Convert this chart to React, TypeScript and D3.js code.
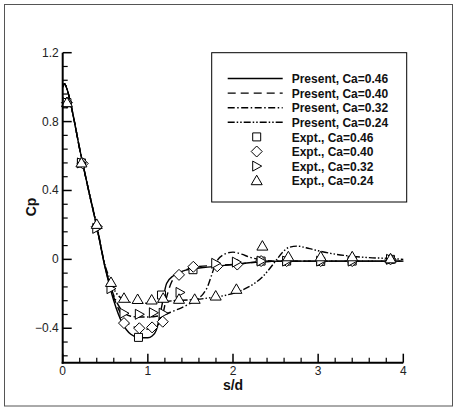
import React from "react";
import * as d3 from "d3";

const W = 454;
const H = 408;

// Present (computed) curves
const x046 = [0, 0.02, 0.05, 0.1, 0.2, 0.3, 0.4, 0.5, 0.6, 0.7, 0.8, 0.9, 1.0, 1.05, 1.1, 1.16, 1.22, 1.3, 1.4, 1.53, 1.7, 2.0, 2.3, 2.6, 3.0, 3.5, 4.0];
const y046 = [1.0, 1.02, 0.99, 0.89, 0.64, 0.41, 0.19, -0.05, -0.24, -0.37, -0.435, -0.455, -0.455, -0.445, -0.41, -0.28, -0.14, -0.095, -0.07, -0.055, -0.045, -0.03, -0.015, -0.01, -0.01, -0.01, -0.01];

const x040 = [0, 0.02, 0.05, 0.1, 0.2, 0.3, 0.4, 0.5, 0.6, 0.7, 0.8, 0.9, 1.0, 1.1, 1.17, 1.22, 1.28, 1.35, 1.45, 1.55, 1.8, 2.0, 2.3, 2.6, 3.0, 4.0];
const y040 = [1.0, 1.02, 0.99, 0.89, 0.64, 0.41, 0.19, -0.05, -0.22, -0.33, -0.385, -0.4, -0.405, -0.39, -0.33, -0.22, -0.13, -0.09, -0.06, -0.045, -0.035, -0.03, -0.015, -0.01, -0.01, -0.01];

const x032 = [0, 0.02, 0.05, 0.1, 0.2, 0.3, 0.4, 0.5, 0.6, 0.7, 0.8, 0.9, 1.0, 1.1, 1.2, 1.3, 1.4, 1.5, 1.6, 1.65, 1.7, 1.75, 1.8, 1.9, 2.0, 2.1, 2.2, 2.3, 2.5, 3.0, 4.0];
const y032 = [1.0, 1.02, 0.99, 0.89, 0.64, 0.41, 0.19, -0.05, -0.21, -0.3, -0.33, -0.335, -0.335, -0.33, -0.32, -0.3, -0.28, -0.255, -0.225, -0.2, -0.16, -0.09, -0.02, 0.03, 0.042, 0.03, 0.012, 0.0, -0.01, -0.01, -0.01];

const x024 = [0, 0.02, 0.05, 0.1, 0.2, 0.3, 0.4, 0.5, 0.56, 0.6, 0.7, 0.8, 0.9, 1.0, 1.1, 1.2, 1.3, 1.5, 1.7, 1.9, 2.1, 2.25, 2.35, 2.42, 2.5, 2.58, 2.65, 2.75, 2.9, 3.0, 3.2, 3.4, 3.6, 3.85, 4.0];
const y024 = [1.0, 1.02, 0.99, 0.89, 0.64, 0.41, 0.2, -0.04, -0.12, -0.17, -0.23, -0.25, -0.255, -0.255, -0.25, -0.245, -0.24, -0.235, -0.225, -0.21, -0.18, -0.14, -0.1, -0.06, -0.01, 0.04, 0.068, 0.077, 0.062, 0.05, 0.03, 0.018, 0.01, 0.005, 0.0];

// Experimental data
const sqX = [0.05, 0.22, 0.89, 1.16, 1.53, 2.33, 2.63, 3.03, 3.4, 3.85];
const sqY = [0.91, 0.56, -0.453, -0.207, -0.06, -0.01, -0.01, -0.012, -0.01, 0.0];

const diX = [0.05, 0.235, 0.4, 0.72, 0.9, 1.05, 1.175, 1.366, 1.534, 1.815, 2.05, 2.33, 2.63, 3.03, 3.4, 3.85];
const diY = [0.91, 0.557, 0.19, -0.37, -0.4, -0.395, -0.362, -0.09, -0.043, -0.04, -0.03, -0.01, -0.01, -0.01, -0.01, 0.0];

const rtX = [0.05, 0.22, 0.4, 0.567, 0.72, 0.9, 1.065, 1.18, 1.378, 1.797, 2.04, 2.33, 2.63, 3.03, 3.4, 3.85];
const rtY = [0.91, 0.56, 0.18, -0.17, -0.313, -0.319, -0.31, -0.313, -0.192, -0.023, -0.016, -0.01, -0.01, -0.01, -0.01, 0.0];

const utX = [0.05, 0.22, 0.4, 0.567, 0.72, 0.88, 1.045, 1.18, 1.366, 1.55, 1.797, 2.04, 2.345, 2.65, 3.03, 3.4, 3.85];
const utY = [0.91, 0.56, 0.203, -0.134, -0.226, -0.233, -0.236, -0.226, -0.232, -0.232, -0.213, -0.174, 0.077, 0.015, 0.015, 0.015, 0.003];

const xTicks = [0, 1, 2, 3, 4];
const yTicks = [-0.4, 0, 0.4, 0.8, 1.2];
const legendLabels = [
  "Present, Ca=0.46",
  "Present, Ca=0.40",
  "Present, Ca=0.32",
  "Present, Ca=0.24",
  "Expt., Ca=0.46",
  "Expt., Ca=0.40",
  "Expt., Ca=0.32",
  "Expt., Ca=0.24",
];

const FONT = "'Liberation Sans', Arial, sans-serif";

const x = d3.scaleLinear().domain([0, 4]).range([62.7, 403.3]);
const y = d3.scaleLinear().domain([-0.6, 1.2]).range([362.7, 52.7]);

const dashes = [undefined, "8,5", "7,2.5,1.5,2.5", "7,2,1.5,2,1.5,2"];

function markerPath(kind: number, cx: number, cy: number): string {
  if (kind === 0) {
    const s = 4;
    return `M${cx - s},${cy - s}H${cx + s}V${cy + s}H${cx - s}Z`;
  }
  if (kind === 1) {
    const s = 5.5;
    return `M${cx},${cy - s}L${cx + s},${cy}L${cx},${cy + s}L${cx - s},${cy}Z`;
  }
  if (kind === 2) {
    return `M${cx - 4},${cy - 5}L${cx + 5},${cy}L${cx - 4},${cy + 5}Z`;
  }
  return `M${cx},${cy - 5.5}L${cx + 5.5},${cy + 4}L${cx - 5.5},${cy + 4}Z`;
}

export default function App() {
  const line = d3
    .line<[number, number]>()
    .x((d) => x(d[0]))
    .y((d) => y(d[1]))
    .curve(d3.curveMonotoneX);

  const curves: [number[], number[]][] = [
    [x046, y046],
    [x040, y040],
    [x032, y032],
    [x024, y024],
  ];
  const expts: [number[], number[]][] = [
    [sqX, sqY],
    [diX, diY],
    [rtX, rtY],
    [utX, utY],
  ];

  const yMinor = d3.range(-0.56, 1.2, 0.08).map((v) => Math.round(v * 100) / 100);
  const xMinor = d3.range(0.2, 4, 0.2).map((v) => Math.round(v * 10) / 10).filter((v) => Math.abs(v - Math.round(v)) > 1e-6);

  const x0 = x(0);
  const y0 = y(-0.6);

  const legX = 211.7;
  const legY = 52.7;
  const rowY = (i: number) => 79 + i * 14.6;

  return (
    <svg width={W} height={H} style={{ position: "absolute", left: 0, top: 0, background: "#fff" }}>
      <rect x={0} y={0} width={W} height={H} fill="#fff" />
      <rect x={4.5} y={4.5} width={448} height={401.5} fill="none" stroke="#555" strokeWidth={1} />

      {/* curves */}
      {curves.map(([xs, ys], i) => (
        <path
          key={"c" + i}
          d={line(xs.map((v, j) => [v, ys[j]] as [number, number])) || ""}
          fill="none"
          stroke="#000"
          strokeWidth={1.4}
          strokeDasharray={dashes[i]}
        />
      ))}

      {/* markers */}
      {expts.map(([xs, ys], k) =>
        xs.map((v, j) => (
          <path
            key={"m" + k + "-" + j}
            d={markerPath(k, x(v), y(ys[j]))}
            fill="#fff"
            stroke="#000"
            strokeWidth={1}
          />
        ))
      )}

      {/* axes */}
      <line x1={x0} y1={y(1.2)} x2={x0} y2={y0 + 1} stroke="#000" strokeWidth={2} />
      <line x1={x0 - 1} y1={y0} x2={x(4)} y2={y0} stroke="#000" strokeWidth={2} />
      {yTicks.map((t) => (
        <g key={"yt" + t}>
          <line x1={x0} x2={x0 + 9} y1={y(t)} y2={y(t)} stroke="#000" strokeWidth={1.5} />
          <text x={x0 - 4} y={y(t) + 4} textAnchor="end" fontFamily={FONT} fontSize={12} fill="#222">
            {t === 0 ? "0" : d3.format(".1f")(t)}
          </text>
        </g>
      ))}
      {yMinor
        .filter((v) => !yTicks.some((t) => Math.abs(t - v) < 1e-6))
        .map((v) => (
          <line key={"ym" + v} x1={x0} x2={x0 + 5} y1={y(v)} y2={y(v)} stroke="#000" strokeWidth={1.2} />
        ))}
      {xTicks.map((t) => (
        <g key={"xt" + t}>
          <line x1={x(t)} x2={x(t)} y1={y0} y2={y0 - 9} stroke="#000" strokeWidth={1.5} />
          <text x={x(t)} y={y0 + 12} textAnchor="middle" fontFamily={FONT} fontSize={12} fill="#222">
            {String(t)}
          </text>
        </g>
      ))}
      {xMinor.map((v) => (
        <line key={"xm" + v} x1={x(v)} x2={x(v)} y1={y0} y2={y0 - 5} stroke="#000" strokeWidth={1.2} />
      ))}

      <text x={233} y={389.5} textAnchor="middle" fontFamily={FONT} fontSize={14} fontWeight="bold" fill="#111">
        s/d
      </text>
      <text
        transform={`translate(36,207) rotate(-90)`}
        textAnchor="middle"
        fontFamily={FONT}
        fontSize={14}
        fontWeight="bold"
        fill="#111"
      >
        Cp
      </text>

      {/* legend */}
      <rect x={legX} y={legY} width={195} height={149.3} fill="#fff" stroke="#000" strokeWidth={1} />
      {legendLabels.map((lab, i) => (
        <g key={"lg" + i}>
          {i < 4 ? (
            <line
              x1={227.7}
              x2={282.7}
              y1={rowY(i) - 0.5}
              y2={rowY(i) - 0.5}
              stroke="#000"
              strokeWidth={1.4}
              strokeDasharray={dashes[i]}
            />
          ) : (
            <path d={markerPath(i - 4, 256.7, rowY(i) - 0.5)} fill="#fff" stroke="#000" strokeWidth={1} />
          )}
          <text x={291.7} y={rowY(i) + 4.2} fontFamily={FONT} fontSize={12} fontWeight="bold" fill="#111">
            {lab}
          </text>
        </g>
      ))}
    </svg>
  );
}
